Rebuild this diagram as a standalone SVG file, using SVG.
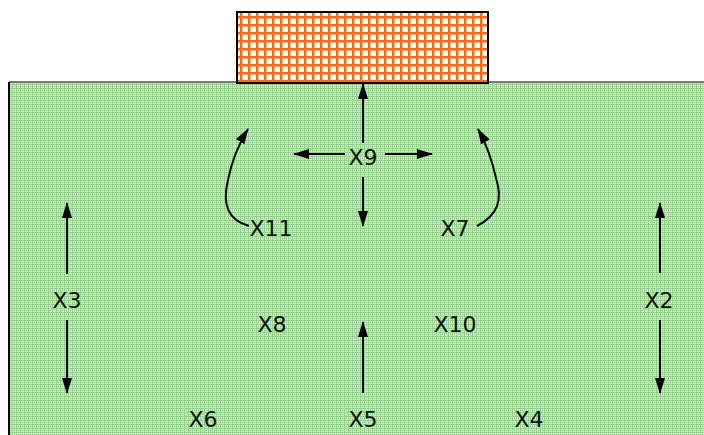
<svg xmlns="http://www.w3.org/2000/svg" width="704" height="435" viewBox="0 0 704 435">
<defs>
<pattern id="green" width="4" height="4" patternUnits="userSpaceOnUse">
<rect width="4" height="4" fill="#cde8c6"/>
<rect x="0" y="0" width="4" height="1" fill="#98cf90"/>
<rect x="0" y="0" width="1" height="4" fill="#98cf90"/>
<rect x="2" y="2" width="1" height="1" fill="#7fbf78"/>
</pattern>
<pattern id="orange" width="8" height="8" patternUnits="userSpaceOnUse">
<rect width="8" height="8" fill="#fff"/>
<rect x="0" y="0" width="8" height="2" fill="#ff6a10"/>
<rect x="0" y="0" width="2" height="8" fill="#ff6a10"/>
<rect x="2" y="2" width="1" height="6" fill="#ffb888"/>
<rect x="2" y="2" width="6" height="1" fill="#ffb888"/>
</pattern>
<marker id="ah" viewBox="0 0 16 10" refX="15" refY="5" markerWidth="16" markerHeight="10" markerUnits="userSpaceOnUse" orient="auto">
<path d="M0,0 L16,5 L0,10 Z" fill="#000"/>
</marker>
<style>
.lbl{font-family:"DejaVu Sans","Verdana",sans-serif;font-size:22px;fill:#111;text-anchor:middle}
.c{fill:none;stroke:#000;stroke-width:2;marker-end:url(#ah)}
</style>
</defs>
<g id="ground">
<rect x="9" y="82" width="700" height="360" fill="url(#green)"/>
<line x1="9" y1="82" x2="704" y2="82" stroke="#555" stroke-width="1.5"/>
<line x1="9" y1="82" x2="9" y2="435" stroke="#000" stroke-width="2"/>
</g>
<g id="building">
<rect x="237" y="12" width="251" height="71" fill="url(#orange)" stroke="#000" stroke-width="2"/>
</g>
<g id="connectors">
<line class="c" x1="363" y1="143" x2="363" y2="84"/>
<line class="c" x1="363" y1="177" x2="363" y2="226"/>
<line class="c" x1="345" y1="154" x2="294" y2="154"/>
<line class="c" x1="385" y1="154" x2="432" y2="154"/>
<path class="c" d="M249,226 C228,220 222,205 228,180 C232,160 238,145 248,129"/>
<path class="c" d="M477,226 C498,215 503,200 496,178 C492,160 487,145 478,129"/>
<line class="c" x1="67" y1="274" x2="67" y2="203"/>
<line class="c" x1="67" y1="320" x2="67" y2="393"/>
<line class="c" x1="660" y1="273" x2="660" y2="203"/>
<line class="c" x1="660" y1="320" x2="660" y2="393"/>
<line class="c" x1="363" y1="393" x2="363" y2="322"/>
</g>
<g id="X9"><text class="lbl" x="363" y="165">X9</text></g>
<g id="X11"><text class="lbl" x="271" y="236">X11</text></g>
<g id="X7"><text class="lbl" x="455" y="236">X7</text></g>
<g id="X3"><text class="lbl" x="67" y="308">X3</text></g>
<g id="X2"><text class="lbl" x="659" y="308">X2</text></g>
<g id="X8"><text class="lbl" x="272" y="332">X8</text></g>
<g id="X10"><text class="lbl" x="455" y="332">X10</text></g>
<g id="X6"><text class="lbl" x="203" y="427">X6</text></g>
<g id="X5"><text class="lbl" x="363" y="427">X5</text></g>
<g id="X4"><text class="lbl" x="529" y="427">X4</text></g>
</svg>
